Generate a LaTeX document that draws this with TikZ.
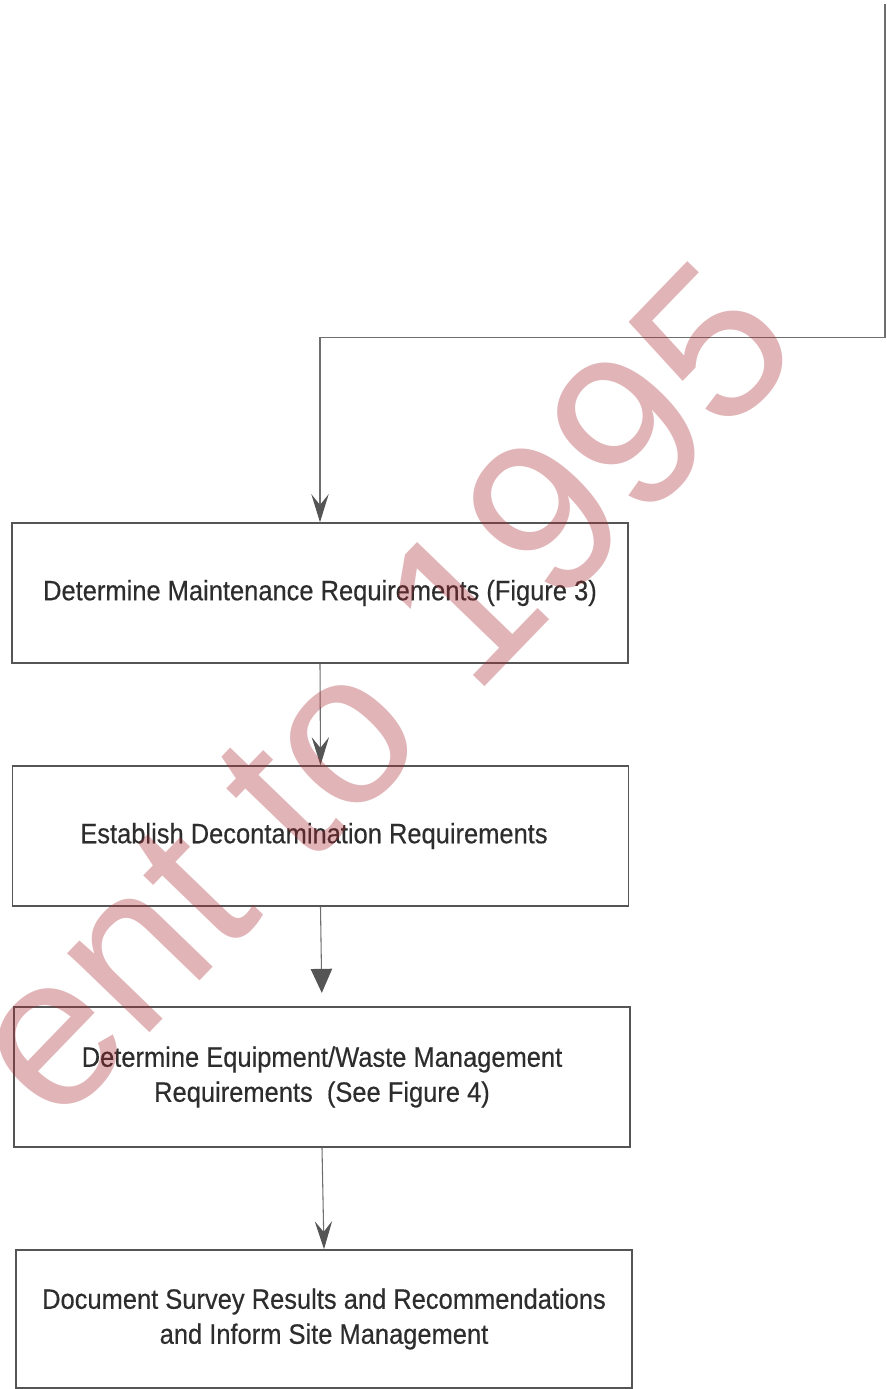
\documentclass[tikz,border=0pt]{standalone}
\usepackage{fontspec}
\setmainfont{Liberation Sans}[FakeStretch=0.91, FakeBold=0.4]
\newfontfamily\stampfont{Liberation Sans}
\usetikzlibrary{arrows.meta}
\definecolor{ink}{RGB}{45,45,45}
\definecolor{rule}{RGB}{85,85,85}
\definecolor{thin}{RGB}{110,110,110}
\definecolor{stampred}{RGB}{170,40,50}
\begin{document}
\begin{tikzpicture}[x=0.75pt,y=-0.75pt,
  stepbox/.style={draw=rule, line width=1.2pt, rectangle, inner sep=0pt,
    minimum width=462pt, minimum height=105pt, align=center, text=ink,
    font=\fontsize{21}{26.25}\selectfont},
  flow/.style={draw=thin, line width=0.8pt,
    -{Stealth[length=21pt, width=13pt, inset=8pt, color=rule]}},
  flowsolid/.style={draw=thin, line width=0.8pt,
    -{Triangle[length=18pt, width=16pt, color=rule]}},
  stamp/.style={text=stampred, opacity=0.35,
    font=\stampfont\fontsize{162}{170}\selectfont, inner sep=0pt}]
\useasboundingbox (0,0) rectangle (887,1389);
\clip (0,0) rectangle (887,1389);

% process steps
\node[stepbox] (b1) at (320,593) {\raisebox{2pt}{Determine Maintenance Requirements (Figure 3)}};
\node[stepbox] (b2) at (320.5,836) {\hspace*{-9.75pt}\raisebox{2pt}{Establish Decontamination Requirements}};
\node[stepbox] (b3) at (322,1077) {Determine Equipment/Waste Management\\Requirements\ \ (See Figure 4)};
\node[stepbox, minimum height=103.5pt] (b4) at (324,1319) {Document Survey Results and Recommendations\\and Inform Site Management};

% incoming line from the previous stage
\coordinate (feed) at (885,4);
\draw[flow] (feed) |- ([yshift=138.75pt]b1.north) -- (b1.north);

% links between steps
\draw[flow] (b1.south) -- (b2.north);
\draw[flowsolid, shorten >=10pt] (b2.south) -- (b3.north);
\draw[flow] (b3.south) -- (b4.north);

% stamp across the sheet
\node[stamp, rotate=46, anchor=base west] (wm) at (56,1130) {ent to 1995};
\end{tikzpicture}
\end{document}
